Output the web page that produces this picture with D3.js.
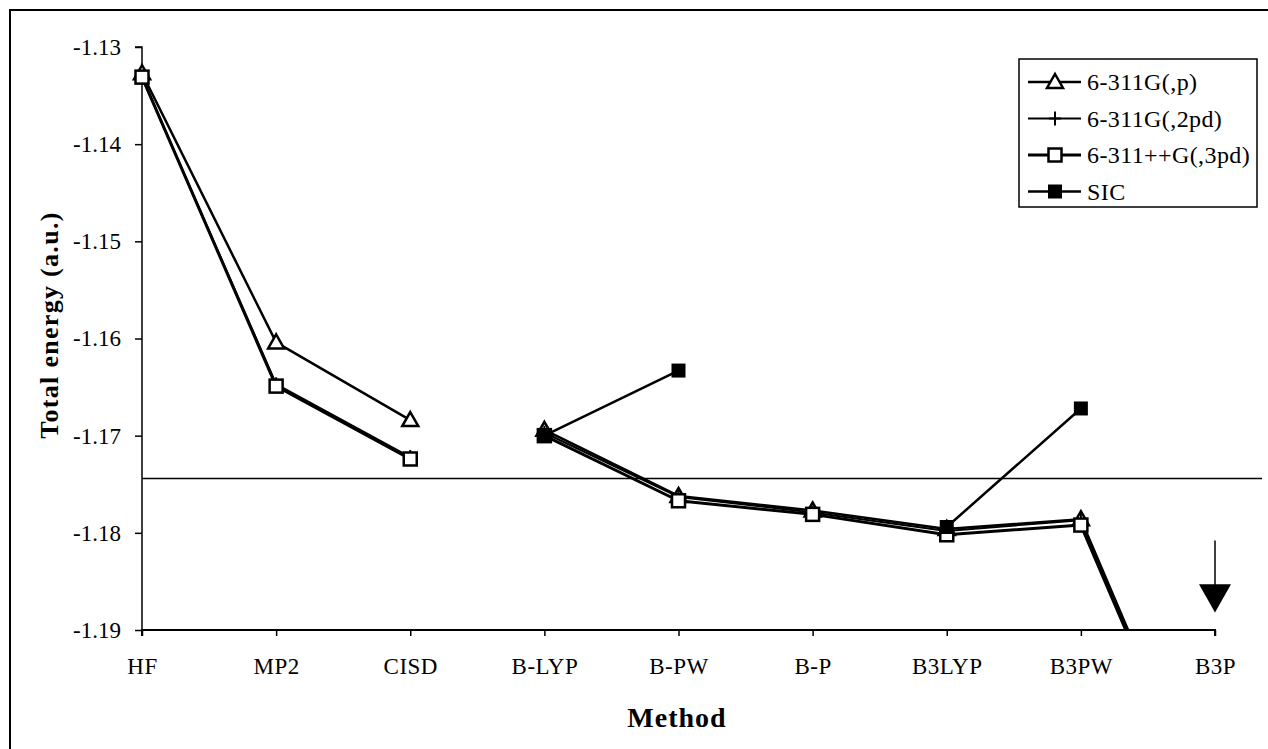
<!DOCTYPE html>
<html>
<head>
<meta charset="utf-8">
<script src="https://cdn.jsdelivr.net/npm/d3@7"></script>
<style>
  body { margin: 0; background: #fff; }
  text { font-family: "Liberation Serif", "Times New Roman", serif; fill: #000; }
</style>
</head>
<body>
<div id="wrapper"></div>
<script>
// data
const methods = ["HF", "MP2", "CISD", "B-LYP", "B-PW", "B-P", "B3LYP", "B3PW", "B3P"]
const basisP = [-1.1327, -1.1604, -1.1684, -1.1694, -1.1762, -1.1777, -1.1796, -1.1786, -1.2110]
const basis2pd = [-1.1331, -1.1647, -1.1722, -1.1697, -1.1763, -1.1779, -1.1798, -1.1787, -1.2112]
const basis3pd = [-1.1331, -1.1649, -1.1724, -1.1700, -1.1767, -1.1781, -1.1802, -1.1792, -1.2115]
const sic = [null, null, null, -1.1700, -1.1633, null, -1.1794, -1.1672, null]
const seriesNames = ["6-311G(,p)", "6-311G(,2pd)", "6-311++G(,3pd)", "SIC"]
const yTicks = [-1.13, -1.14, -1.15, -1.16, -1.17, -1.18, -1.19]
const refLine = -1.1744
const lastWavefunction = "CISD"   // lines break after this method

const width = 1268
const height = 749
const plot = { left: 142, right: 1215, top: 47, bottom: 630 }

const svg = d3.select("#wrapper").append("svg")
    .attr("width", width)
    .attr("height", height)

// outer frame
svg.append("path")
    .attr("d", `M10,${height} L10,10 L${width},10`)
    .attr("fill", "none")
    .attr("stroke", "#000")
    .attr("stroke-width", 2)

const x = d3.scalePoint()
    .domain(methods)
    .range([plot.left, plot.right])

const y = d3.scaleLinear()
    .domain([-1.19, -1.13])
    .range([plot.bottom, plot.top])

svg.append("clipPath").attr("id", "clip")
  .append("rect")
    .attr("x", plot.left - 20)
    .attr("y", plot.top - 20)
    .attr("width", width - plot.left + 20)
    .attr("height", plot.bottom - plot.top + 20)

// axes
const yAxis = svg.append("g")
    .attr("transform", `translate(${plot.left},0)`)
    .call(d3.axisLeft(y).tickValues(yTicks).tickSize(7).tickPadding(14).tickFormat(d => d.toFixed(2)))
yAxis.select(".domain").attr("d", `M-7,${plot.top}H0V${plot.bottom}`).attr("stroke-width", 1.5)
yAxis.selectAll(".tick line").attr("stroke-width", 1.5)
yAxis.selectAll(".tick text")
    .style("font-family", "Liberation Serif")
    .style("font-size", "23px")

const xAxis = svg.append("g")
    .attr("transform", `translate(0,${plot.bottom})`)
    .call(d3.axisBottom(x).tickSize(6).tickPadding(22))
xAxis.select(".domain").attr("d", `M${plot.left},6V0H${plot.right}V6`).attr("stroke-width", 2)
xAxis.selectAll(".tick line").attr("stroke-width", 1.5)
xAxis.selectAll(".tick text")
    .style("font-family", "Liberation Serif")
    .style("font-size", "23px")
    .style("letter-spacing", "0.5px")

svg.append("text")
    .attr("transform", `translate(58,325) rotate(-90)`)
    .attr("text-anchor", "middle")
    .style("font-size", "26px")
    .style("font-weight", "bold")
    .style("letter-spacing", "1.3px")
    .text("Total energy (a.u.)")

svg.append("text")
    .attr("x", 677)
    .attr("y", 727)
    .attr("text-anchor", "middle")
    .style("font-size", "28px")
    .style("font-weight", "bold")
    .style("letter-spacing", "1px")
    .text("Method")

// reference line
svg.append("line")
    .attr("x1", plot.left)
    .attr("x2", 1262)
    .attr("y1", y(refLine))
    .attr("y2", y(refLine))
    .attr("stroke", "#000")
    .attr("stroke-width", 1.5)

// arrow pointing to off-scale B3P values
const ax = x("B3P")
svg.append("line")
    .attr("x1", ax).attr("x2", ax)
    .attr("y1", y(-1.1808)).attr("y2", y(-1.1860))
    .attr("stroke", "#000").attr("stroke-width", 1.5)
svg.append("path")
    .attr("d", `M${ax - 16},${y(-1.1853)} L${ax + 16},${y(-1.1853)} L${ax},${y(-1.1882)} Z`)
    .attr("fill", "#000")

const breakIdx = methods.indexOf(lastWavefunction)
const series = [
  { name: seriesNames[0], values: basisP, width: 2.5, marker: "triangle" },
  { name: seriesNames[1], values: basis2pd, width: 2, marker: "plus" },
  { name: seriesNames[2], values: basis3pd, width: 3, marker: "square" },
  { name: seriesNames[3], values: sic, width: 2.5, marker: "filled" },
]

const line = d3.line()
    .defined(d => d.v !== null)
    .x(d => x(d.m))
    .y(d => y(d.v))

const marks = svg.append("g").attr("clip-path", "url(#clip)")

function drawMarker(g, type, cx, cy) {
  if (type === "triangle") {
    g.append("path")
        .attr("d", `M${cx},${cy - 8} L${cx + 8},${cy + 6} L${cx - 8},${cy + 6} Z`)
        .attr("fill", "#fff").attr("stroke", "#000").attr("stroke-width", 2.5)
  } else if (type === "plus") {
    g.append("path")
        .attr("d", `M${cx - 6},${cy} H${cx + 6} M${cx},${cy - 7} V${cy + 7}`)
        .attr("stroke", "#000").attr("stroke-width", 2)
  } else if (type === "square") {
    g.append("rect")
        .attr("x", cx - 6.5).attr("y", cy - 6.5).attr("width", 13).attr("height", 13)
        .attr("fill", "#fff").attr("stroke", "#000").attr("stroke-width", 2.5)
  } else {
    g.append("rect")
        .attr("x", cx - 7).attr("y", cy - 7).attr("width", 14).attr("height", 14)
        .attr("fill", "#000")
  }
}

series.forEach(s => {
  const pts = methods.map((m, i) => ({ m, v: s.values[i] }))
  const parts = [pts.slice(0, breakIdx + 1), pts.slice(breakIdx + 1)]
  parts.forEach(p => {
    marks.append("path")
        .attr("d", line(p))
        .attr("fill", "none")
        .attr("stroke", "#000")
        .attr("stroke-width", s.width)
        .attr("stroke-linejoin", "round")
  })
})

series.forEach(s => {
  methods.forEach((m, i) => {
    const v = s.values[i]
    if (v === null || v < y.domain()[0]) return
    drawMarker(marks, s.marker, x(m), y(v))
  })
})

// legend
const legend = svg.append("g").attr("transform", "translate(1019,59)")
legend.append("rect")
    .attr("width", 238).attr("height", 148)
    .attr("fill", "#fff").attr("stroke", "#000").attr("stroke-width", 1.5)
series.forEach((s, i) => {
  const ly = 23 + i * 36.5
  legend.append("line")
      .attr("x1", 9).attr("x2", 62).attr("y1", ly).attr("y2", ly)
      .attr("stroke", "#000").attr("stroke-width", s.width)
  drawMarker(legend, s.marker, 36, ly)
  legend.append("text")
      .attr("x", 68).attr("y", ly + 8)
      .style("font-size", "24px")
      .style("letter-spacing", "0.4px")
      .text(s.name)
})
</script>
</body>
</html>
